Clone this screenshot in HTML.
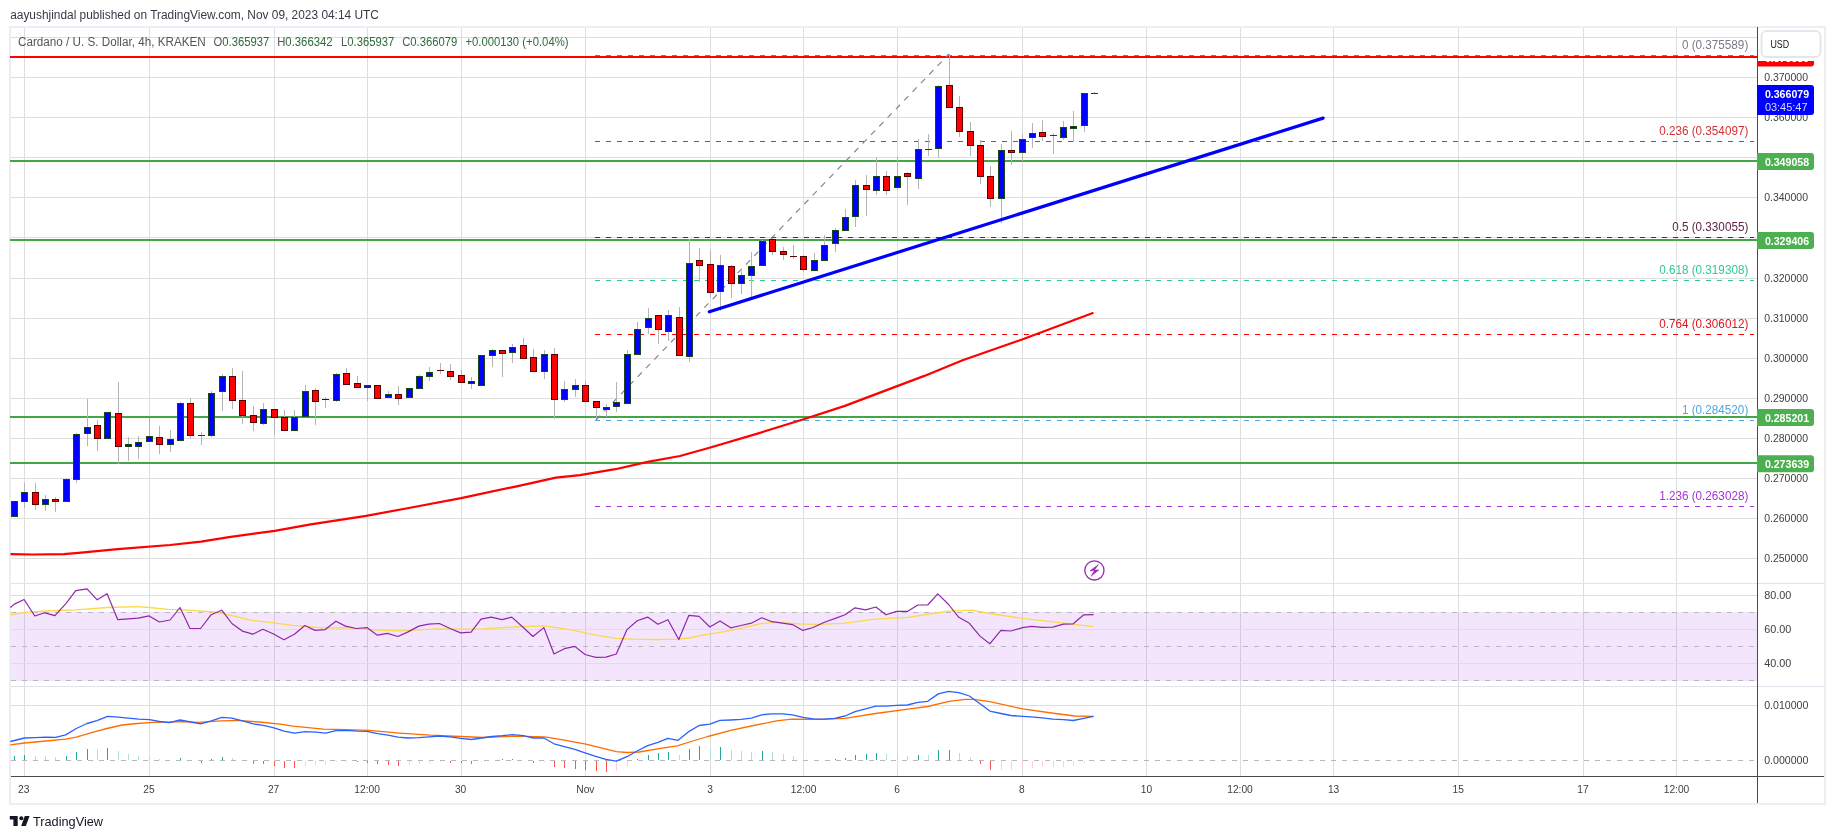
<!DOCTYPE html>
<html><head><meta charset="utf-8"><title>ADA/USD Chart</title>
<style>
html,body{margin:0;padding:0;background:#ffffff;}
body{width:1835px;height:839px;position:relative;overflow:hidden;font-family:"Liberation Sans", sans-serif;}
</style></head><body>
<svg width="1835" height="839" viewBox="0 0 1835 839" shape-rendering="crispEdges" style="position:absolute;left:0;top:0;will-change:transform"><rect x="0" y="0" width="1835" height="839" fill="#ffffff"/><rect x="9" y="26" width="1817" height="2" fill="#eceef3"/><rect x="9" y="803" width="1817" height="2" fill="#eceef3"/><rect x="9" y="26" width="2" height="779" fill="#eceef3"/><rect x="1824" y="26" width="2" height="779" fill="#eceef3"/><rect x="24" y="28" width="1" height="748" fill="#dedede"/><rect x="149" y="28" width="1" height="748" fill="#dedede"/><rect x="274" y="28" width="1" height="748" fill="#dedede"/><rect x="367" y="28" width="1" height="748" fill="#dedede"/><rect x="461" y="28" width="1" height="748" fill="#dedede"/><rect x="585" y="28" width="1" height="748" fill="#dedede"/><rect x="710" y="28" width="1" height="748" fill="#dedede"/><rect x="803" y="28" width="1" height="748" fill="#dedede"/><rect x="897" y="28" width="1" height="748" fill="#dedede"/><rect x="1022" y="28" width="1" height="748" fill="#dedede"/><rect x="1146" y="28" width="1" height="748" fill="#dedede"/><rect x="1240" y="28" width="1" height="748" fill="#dedede"/><rect x="1333" y="28" width="1" height="748" fill="#dedede"/><rect x="1458" y="28" width="1" height="748" fill="#dedede"/><rect x="1583" y="28" width="1" height="748" fill="#dedede"/><rect x="1676" y="28" width="1" height="748" fill="#dedede"/><rect x="11" y="37" width="1746" height="1" fill="#dedede"/><rect x="11" y="77" width="1746" height="1" fill="#dedede"/><rect x="11" y="117" width="1746" height="1" fill="#dedede"/><rect x="11" y="157" width="1746" height="1" fill="#dedede"/><rect x="11" y="197" width="1746" height="1" fill="#dedede"/><rect x="11" y="237" width="1746" height="1" fill="#dedede"/><rect x="11" y="278" width="1746" height="1" fill="#dedede"/><rect x="11" y="318" width="1746" height="1" fill="#dedede"/><rect x="11" y="358" width="1746" height="1" fill="#dedede"/><rect x="11" y="398" width="1746" height="1" fill="#dedede"/><rect x="11" y="438" width="1746" height="1" fill="#dedede"/><rect x="11" y="478" width="1746" height="1" fill="#dedede"/><rect x="11" y="518" width="1746" height="1" fill="#dedede"/><rect x="11" y="558" width="1746" height="1" fill="#dedede"/><rect x="11" y="583" width="1813" height="1" fill="#e0e3eb"/><rect x="11" y="686" width="1813" height="1" fill="#e0e3eb"/><rect x="11" y="612" width="1746" height="69" fill="#9b27e1" fill-opacity="0.12"/><rect x="11" y="595" width="1746" height="1" fill="#dedede"/><rect x="11" y="629" width="1746" height="1" fill="#dedede"/><rect x="11" y="663" width="1746" height="1" fill="#dedede"/><line x1="11" y1="612.5" x2="1754" y2="612.5" stroke="#b8b8b8" stroke-width="1" stroke-dasharray="5 6"/><line x1="11" y1="646.5" x2="1754" y2="646.5" stroke="#b8b8b8" stroke-width="1" stroke-dasharray="5 6"/><line x1="11" y1="680.5" x2="1754" y2="680.5" stroke="#b8b8b8" stroke-width="1" stroke-dasharray="5 6"/><rect x="11" y="705" width="1746" height="1" fill="#dedede"/><line x1="11" y1="760.5" x2="1754" y2="760.5" stroke="#b8b8b8" stroke-width="1" stroke-dasharray="5 6"/><rect x="1757" y="27" width="1" height="776" fill="#4a4a4a"/><rect x="11" y="776" width="1813" height="1" fill="#4a4a4a"/><line x1="595" y1="55.5" x2="1754" y2="55.5" stroke="#787b86" stroke-width="1" stroke-dasharray="5 6"/><line x1="595" y1="141.5" x2="1754" y2="141.5" stroke="#d03232" stroke-width="1" stroke-dasharray="5 6"/><line x1="595" y1="237.5" x2="1754" y2="237.5" stroke="#5e2346" stroke-width="1" stroke-dasharray="5 6"/><line x1="595" y1="280.5" x2="1754" y2="280.5" stroke="#2ec99a" stroke-width="1" stroke-dasharray="5 6"/><line x1="595" y1="334.5" x2="1754" y2="334.5" stroke="#ff0000" stroke-width="1" stroke-dasharray="5 6"/><line x1="595" y1="420.5" x2="1754" y2="420.5" stroke="#4fa6e0" stroke-width="1" stroke-dasharray="5 6"/><line x1="595" y1="506.5" x2="1754" y2="506.5" stroke="#a134d6" stroke-width="1" stroke-dasharray="5 6"/><rect x="10" y="56" width="1747" height="2" fill="#ff0000"/><rect x="10" y="160" width="1747" height="2" fill="#43a546"/><rect x="10" y="239" width="1747" height="2" fill="#43a546"/><rect x="10" y="416" width="1747" height="2" fill="#43a546"/><rect x="10" y="462" width="1747" height="2" fill="#43a546"/><line x1="596" y1="420" x2="949" y2="54" stroke="#80838c" stroke-width="1.15" stroke-dasharray="6 6" shape-rendering="auto"/><g><rect x="14" y="501" width="1" height="16" fill="#b4b4b4"/><rect x="11" y="501" width="7" height="16" fill="#1a461a"/><rect x="12" y="502" width="5" height="14" fill="#0000ff"/><rect x="24" y="483" width="1" height="25" fill="#b4b4b4"/><rect x="21" y="492" width="7" height="10" fill="#1a461a"/><rect x="22" y="493" width="5" height="8" fill="#0000ff"/><rect x="35" y="483" width="1" height="27" fill="#b4b4b4"/><rect x="32" y="492" width="7" height="13" fill="#560000"/><rect x="33" y="493" width="5" height="11" fill="#ff0000"/><rect x="45" y="495" width="1" height="16" fill="#b4b4b4"/><rect x="42" y="499" width="7" height="6" fill="#1a461a"/><rect x="43" y="500" width="5" height="4" fill="#0000ff"/><rect x="55" y="497" width="1" height="15" fill="#b4b4b4"/><rect x="52" y="499" width="7" height="3" fill="#560000"/><rect x="53" y="500" width="5" height="1" fill="#ff0000"/><rect x="66" y="478" width="1" height="24" fill="#b4b4b4"/><rect x="63" y="479" width="7" height="23" fill="#1a461a"/><rect x="64" y="480" width="5" height="21" fill="#0000ff"/><rect x="76" y="433" width="1" height="50" fill="#b4b4b4"/><rect x="73" y="434" width="7" height="46" fill="#1a461a"/><rect x="74" y="435" width="5" height="44" fill="#0000ff"/><rect x="87" y="399" width="1" height="47" fill="#b4b4b4"/><rect x="84" y="427" width="7" height="7" fill="#1a461a"/><rect x="85" y="428" width="5" height="5" fill="#0000ff"/><rect x="97" y="420" width="1" height="31" fill="#b4b4b4"/><rect x="94" y="425" width="7" height="14" fill="#560000"/><rect x="95" y="426" width="5" height="12" fill="#ff0000"/><rect x="107" y="412" width="1" height="27" fill="#b4b4b4"/><rect x="104" y="412" width="7" height="27" fill="#1a461a"/><rect x="105" y="413" width="5" height="25" fill="#0000ff"/><rect x="118" y="382" width="1" height="82" fill="#b4b4b4"/><rect x="115" y="413" width="7" height="34" fill="#560000"/><rect x="116" y="414" width="5" height="32" fill="#ff0000"/><rect x="128" y="437" width="1" height="24" fill="#b4b4b4"/><rect x="125" y="444" width="7" height="3" fill="#1a461a"/><rect x="126" y="445" width="5" height="1" fill="#0000ff"/><rect x="138" y="436" width="1" height="23" fill="#b4b4b4"/><rect x="135" y="442" width="7" height="5" fill="#1a461a"/><rect x="136" y="443" width="5" height="3" fill="#0000ff"/><rect x="149" y="418" width="1" height="24" fill="#b4b4b4"/><rect x="146" y="436" width="7" height="6" fill="#1a461a"/><rect x="147" y="437" width="5" height="4" fill="#0000ff"/><rect x="159" y="426" width="1" height="28" fill="#b4b4b4"/><rect x="156" y="437" width="7" height="8" fill="#560000"/><rect x="157" y="438" width="5" height="6" fill="#ff0000"/><rect x="170" y="430" width="1" height="22" fill="#b4b4b4"/><rect x="167" y="439" width="7" height="6" fill="#1a461a"/><rect x="168" y="440" width="5" height="4" fill="#0000ff"/><rect x="180" y="402" width="1" height="39" fill="#b4b4b4"/><rect x="177" y="403" width="7" height="38" fill="#1a461a"/><rect x="178" y="404" width="5" height="36" fill="#0000ff"/><rect x="190" y="398" width="1" height="41" fill="#b4b4b4"/><rect x="187" y="403" width="7" height="33" fill="#560000"/><rect x="188" y="404" width="5" height="31" fill="#ff0000"/><rect x="201" y="432" width="1" height="13" fill="#b4b4b4"/><rect x="198" y="435" width="7" height="1" fill="#1a461a"/><rect x="211" y="391" width="1" height="46" fill="#b4b4b4"/><rect x="208" y="393" width="7" height="43" fill="#1a461a"/><rect x="209" y="394" width="5" height="41" fill="#0000ff"/><rect x="222" y="374" width="1" height="37" fill="#b4b4b4"/><rect x="219" y="376" width="7" height="16" fill="#1a461a"/><rect x="220" y="377" width="5" height="14" fill="#0000ff"/><rect x="232" y="368" width="1" height="41" fill="#b4b4b4"/><rect x="229" y="376" width="7" height="25" fill="#560000"/><rect x="230" y="377" width="5" height="23" fill="#ff0000"/><rect x="242" y="371" width="1" height="53" fill="#b4b4b4"/><rect x="239" y="400" width="7" height="16" fill="#560000"/><rect x="240" y="401" width="5" height="14" fill="#ff0000"/><rect x="253" y="406" width="1" height="25" fill="#b4b4b4"/><rect x="250" y="415" width="7" height="8" fill="#560000"/><rect x="251" y="416" width="5" height="6" fill="#ff0000"/><rect x="263" y="403" width="1" height="22" fill="#b4b4b4"/><rect x="260" y="409" width="7" height="15" fill="#1a461a"/><rect x="261" y="410" width="5" height="13" fill="#0000ff"/><rect x="274" y="409" width="1" height="26" fill="#b4b4b4"/><rect x="271" y="409" width="7" height="9" fill="#560000"/><rect x="272" y="410" width="5" height="7" fill="#ff0000"/><rect x="284" y="410" width="1" height="21" fill="#b4b4b4"/><rect x="281" y="417" width="7" height="14" fill="#560000"/><rect x="282" y="418" width="5" height="12" fill="#ff0000"/><rect x="294" y="410" width="1" height="21" fill="#b4b4b4"/><rect x="291" y="417" width="7" height="14" fill="#1a461a"/><rect x="292" y="418" width="5" height="12" fill="#0000ff"/><rect x="305" y="385" width="1" height="32" fill="#b4b4b4"/><rect x="302" y="391" width="7" height="26" fill="#1a461a"/><rect x="303" y="392" width="5" height="24" fill="#0000ff"/><rect x="315" y="388" width="1" height="37" fill="#b4b4b4"/><rect x="312" y="390" width="7" height="12" fill="#560000"/><rect x="313" y="391" width="5" height="10" fill="#ff0000"/><rect x="325" y="397" width="1" height="11" fill="#b4b4b4"/><rect x="322" y="399" width="7" height="1" fill="#560000"/><rect x="336" y="373" width="1" height="29" fill="#b4b4b4"/><rect x="333" y="374" width="7" height="27" fill="#1a461a"/><rect x="334" y="375" width="5" height="25" fill="#0000ff"/><rect x="346" y="368" width="1" height="17" fill="#b4b4b4"/><rect x="343" y="373" width="7" height="12" fill="#560000"/><rect x="344" y="374" width="5" height="10" fill="#ff0000"/><rect x="357" y="376" width="1" height="12" fill="#b4b4b4"/><rect x="354" y="383" width="7" height="5" fill="#560000"/><rect x="355" y="384" width="5" height="3" fill="#ff0000"/><rect x="367" y="385" width="1" height="16" fill="#b4b4b4"/><rect x="364" y="385" width="7" height="3" fill="#1a461a"/><rect x="365" y="386" width="5" height="1" fill="#0000ff"/><rect x="377" y="385" width="1" height="14" fill="#b4b4b4"/><rect x="374" y="385" width="7" height="14" fill="#560000"/><rect x="375" y="386" width="5" height="12" fill="#ff0000"/><rect x="388" y="391" width="1" height="7" fill="#b4b4b4"/><rect x="385" y="394" width="7" height="4" fill="#1a461a"/><rect x="386" y="395" width="5" height="2" fill="#0000ff"/><rect x="398" y="386" width="1" height="19" fill="#b4b4b4"/><rect x="395" y="394" width="7" height="5" fill="#560000"/><rect x="396" y="395" width="5" height="3" fill="#ff0000"/><rect x="409" y="388" width="1" height="10" fill="#b4b4b4"/><rect x="406" y="388" width="7" height="10" fill="#1a461a"/><rect x="407" y="389" width="5" height="8" fill="#0000ff"/><rect x="419" y="375" width="1" height="14" fill="#b4b4b4"/><rect x="416" y="376" width="7" height="13" fill="#1a461a"/><rect x="417" y="377" width="5" height="11" fill="#0000ff"/><rect x="429" y="367" width="1" height="14" fill="#b4b4b4"/><rect x="426" y="372" width="7" height="5" fill="#1a461a"/><rect x="427" y="373" width="5" height="3" fill="#0000ff"/><rect x="440" y="363" width="1" height="11" fill="#b4b4b4"/><rect x="437" y="370" width="7" height="1" fill="#560000"/><rect x="450" y="364" width="1" height="16" fill="#b4b4b4"/><rect x="447" y="371" width="7" height="6" fill="#560000"/><rect x="448" y="372" width="5" height="4" fill="#ff0000"/><rect x="461" y="370" width="1" height="13" fill="#b4b4b4"/><rect x="458" y="375" width="7" height="8" fill="#560000"/><rect x="459" y="376" width="5" height="6" fill="#ff0000"/><rect x="471" y="377" width="1" height="12" fill="#b4b4b4"/><rect x="468" y="381" width="7" height="3" fill="#1a461a"/><rect x="469" y="382" width="5" height="1" fill="#0000ff"/><rect x="481" y="355" width="1" height="31" fill="#b4b4b4"/><rect x="478" y="355" width="7" height="31" fill="#1a461a"/><rect x="479" y="356" width="5" height="29" fill="#0000ff"/><rect x="492" y="349" width="1" height="18" fill="#b4b4b4"/><rect x="489" y="350" width="7" height="6" fill="#1a461a"/><rect x="490" y="351" width="5" height="4" fill="#0000ff"/><rect x="502" y="350" width="1" height="27" fill="#b4b4b4"/><rect x="499" y="350" width="7" height="4" fill="#560000"/><rect x="500" y="351" width="5" height="2" fill="#ff0000"/><rect x="512" y="344" width="1" height="19" fill="#b4b4b4"/><rect x="509" y="347" width="7" height="6" fill="#1a461a"/><rect x="510" y="348" width="5" height="4" fill="#0000ff"/><rect x="523" y="338" width="1" height="21" fill="#b4b4b4"/><rect x="520" y="345" width="7" height="14" fill="#560000"/><rect x="521" y="346" width="5" height="12" fill="#ff0000"/><rect x="533" y="349" width="1" height="23" fill="#b4b4b4"/><rect x="530" y="357" width="7" height="15" fill="#560000"/><rect x="531" y="358" width="5" height="13" fill="#ff0000"/><rect x="544" y="350" width="1" height="29" fill="#b4b4b4"/><rect x="541" y="354" width="7" height="18" fill="#1a461a"/><rect x="542" y="355" width="5" height="16" fill="#0000ff"/><rect x="554" y="348" width="1" height="71" fill="#b4b4b4"/><rect x="551" y="354" width="7" height="46" fill="#560000"/><rect x="552" y="355" width="5" height="44" fill="#ff0000"/><rect x="564" y="381" width="1" height="21" fill="#b4b4b4"/><rect x="561" y="389" width="7" height="11" fill="#1a461a"/><rect x="562" y="390" width="5" height="9" fill="#0000ff"/><rect x="575" y="379" width="1" height="18" fill="#b4b4b4"/><rect x="572" y="385" width="7" height="5" fill="#1a461a"/><rect x="573" y="386" width="5" height="3" fill="#0000ff"/><rect x="585" y="381" width="1" height="21" fill="#b4b4b4"/><rect x="582" y="385" width="7" height="17" fill="#560000"/><rect x="583" y="386" width="5" height="15" fill="#ff0000"/><rect x="596" y="401" width="1" height="18" fill="#b4b4b4"/><rect x="593" y="401" width="7" height="7" fill="#560000"/><rect x="594" y="402" width="5" height="5" fill="#ff0000"/><rect x="606" y="404" width="1" height="13" fill="#b4b4b4"/><rect x="603" y="407" width="7" height="3" fill="#1a461a"/><rect x="604" y="408" width="5" height="1" fill="#0000ff"/><rect x="616" y="382" width="1" height="30" fill="#b4b4b4"/><rect x="613" y="402" width="7" height="5" fill="#1a461a"/><rect x="614" y="403" width="5" height="3" fill="#0000ff"/><rect x="627" y="350" width="1" height="54" fill="#b4b4b4"/><rect x="624" y="354" width="7" height="50" fill="#1a461a"/><rect x="625" y="355" width="5" height="48" fill="#0000ff"/><rect x="637" y="322" width="1" height="33" fill="#b4b4b4"/><rect x="634" y="329" width="7" height="26" fill="#1a461a"/><rect x="635" y="330" width="5" height="24" fill="#0000ff"/><rect x="648" y="308" width="1" height="26" fill="#b4b4b4"/><rect x="645" y="318" width="7" height="10" fill="#1a461a"/><rect x="646" y="319" width="5" height="8" fill="#0000ff"/><rect x="658" y="315" width="1" height="29" fill="#b4b4b4"/><rect x="655" y="315" width="7" height="15" fill="#560000"/><rect x="656" y="316" width="5" height="13" fill="#ff0000"/><rect x="668" y="310" width="1" height="31" fill="#b4b4b4"/><rect x="665" y="315" width="7" height="17" fill="#1a461a"/><rect x="666" y="316" width="5" height="15" fill="#0000ff"/><rect x="679" y="307" width="1" height="49" fill="#b4b4b4"/><rect x="676" y="317" width="7" height="39" fill="#560000"/><rect x="677" y="318" width="5" height="37" fill="#ff0000"/><rect x="689" y="239" width="1" height="123" fill="#b4b4b4"/><rect x="686" y="263" width="7" height="94" fill="#1a461a"/><rect x="687" y="264" width="5" height="92" fill="#0000ff"/><rect x="699" y="248" width="1" height="34" fill="#b4b4b4"/><rect x="696" y="260" width="7" height="6" fill="#560000"/><rect x="697" y="261" width="5" height="4" fill="#ff0000"/><rect x="710" y="250" width="1" height="48" fill="#b4b4b4"/><rect x="707" y="264" width="7" height="29" fill="#560000"/><rect x="708" y="265" width="5" height="27" fill="#ff0000"/><rect x="720" y="255" width="1" height="56" fill="#b4b4b4"/><rect x="717" y="265" width="7" height="27" fill="#1a461a"/><rect x="718" y="266" width="5" height="25" fill="#0000ff"/><rect x="731" y="265" width="1" height="33" fill="#b4b4b4"/><rect x="728" y="266" width="7" height="18" fill="#560000"/><rect x="729" y="267" width="5" height="16" fill="#ff0000"/><rect x="741" y="271" width="1" height="23" fill="#b4b4b4"/><rect x="738" y="275" width="7" height="9" fill="#1a461a"/><rect x="739" y="276" width="5" height="7" fill="#0000ff"/><rect x="751" y="252" width="1" height="48" fill="#b4b4b4"/><rect x="748" y="266" width="7" height="10" fill="#1a461a"/><rect x="749" y="267" width="5" height="8" fill="#0000ff"/><rect x="762" y="240" width="1" height="26" fill="#b4b4b4"/><rect x="759" y="241" width="7" height="25" fill="#1a461a"/><rect x="760" y="242" width="5" height="23" fill="#0000ff"/><rect x="772" y="238" width="1" height="17" fill="#b4b4b4"/><rect x="769" y="239" width="7" height="13" fill="#560000"/><rect x="770" y="240" width="5" height="11" fill="#ff0000"/><rect x="783" y="247" width="1" height="13" fill="#b4b4b4"/><rect x="780" y="251" width="7" height="4" fill="#560000"/><rect x="781" y="252" width="5" height="2" fill="#ff0000"/><rect x="793" y="245" width="1" height="14" fill="#b4b4b4"/><rect x="790" y="256" width="7" height="1" fill="#560000"/><rect x="803" y="255" width="1" height="17" fill="#b4b4b4"/><rect x="800" y="256" width="7" height="14" fill="#560000"/><rect x="801" y="257" width="5" height="12" fill="#ff0000"/><rect x="814" y="253" width="1" height="18" fill="#b4b4b4"/><rect x="811" y="260" width="7" height="11" fill="#1a461a"/><rect x="812" y="261" width="5" height="9" fill="#0000ff"/><rect x="824" y="235" width="1" height="26" fill="#b4b4b4"/><rect x="821" y="245" width="7" height="16" fill="#1a461a"/><rect x="822" y="246" width="5" height="14" fill="#0000ff"/><rect x="835" y="228" width="1" height="24" fill="#b4b4b4"/><rect x="832" y="230" width="7" height="14" fill="#1a461a"/><rect x="833" y="231" width="5" height="12" fill="#0000ff"/><rect x="845" y="209" width="1" height="22" fill="#b4b4b4"/><rect x="842" y="217" width="7" height="14" fill="#1a461a"/><rect x="843" y="218" width="5" height="12" fill="#0000ff"/><rect x="855" y="180" width="1" height="47" fill="#b4b4b4"/><rect x="852" y="185" width="7" height="32" fill="#1a461a"/><rect x="853" y="186" width="5" height="30" fill="#0000ff"/><rect x="866" y="175" width="1" height="41" fill="#b4b4b4"/><rect x="863" y="185" width="7" height="5" fill="#560000"/><rect x="864" y="186" width="5" height="3" fill="#ff0000"/><rect x="876" y="157" width="1" height="38" fill="#b4b4b4"/><rect x="873" y="176" width="7" height="15" fill="#1a461a"/><rect x="874" y="177" width="5" height="13" fill="#0000ff"/><rect x="886" y="171" width="1" height="24" fill="#b4b4b4"/><rect x="883" y="176" width="7" height="15" fill="#560000"/><rect x="884" y="177" width="5" height="13" fill="#ff0000"/><rect x="897" y="157" width="1" height="33" fill="#b4b4b4"/><rect x="894" y="176" width="7" height="12" fill="#1a461a"/><rect x="895" y="177" width="5" height="10" fill="#0000ff"/><rect x="907" y="172" width="1" height="33" fill="#b4b4b4"/><rect x="904" y="173" width="7" height="4" fill="#560000"/><rect x="905" y="174" width="5" height="2" fill="#ff0000"/><rect x="918" y="139" width="1" height="50" fill="#b4b4b4"/><rect x="915" y="149" width="7" height="30" fill="#1a461a"/><rect x="916" y="150" width="5" height="28" fill="#0000ff"/><rect x="928" y="134" width="1" height="22" fill="#b4b4b4"/><rect x="925" y="149" width="7" height="1" fill="#1a461a"/><rect x="938" y="85" width="1" height="73" fill="#b4b4b4"/><rect x="935" y="86" width="7" height="63" fill="#1a461a"/><rect x="936" y="87" width="5" height="61" fill="#0000ff"/><rect x="949" y="54" width="1" height="54" fill="#b4b4b4"/><rect x="946" y="85" width="7" height="23" fill="#560000"/><rect x="947" y="86" width="5" height="21" fill="#ff0000"/><rect x="959" y="96" width="1" height="41" fill="#b4b4b4"/><rect x="956" y="107" width="7" height="25" fill="#560000"/><rect x="957" y="108" width="5" height="23" fill="#ff0000"/><rect x="970" y="122" width="1" height="34" fill="#b4b4b4"/><rect x="967" y="131" width="7" height="15" fill="#560000"/><rect x="968" y="132" width="5" height="13" fill="#ff0000"/><rect x="980" y="140" width="1" height="44" fill="#b4b4b4"/><rect x="977" y="145" width="7" height="32" fill="#560000"/><rect x="978" y="146" width="5" height="30" fill="#ff0000"/><rect x="990" y="166" width="1" height="41" fill="#b4b4b4"/><rect x="987" y="176" width="7" height="23" fill="#560000"/><rect x="988" y="177" width="5" height="21" fill="#ff0000"/><rect x="1001" y="144" width="1" height="79" fill="#b4b4b4"/><rect x="998" y="150" width="7" height="49" fill="#1a461a"/><rect x="999" y="151" width="5" height="47" fill="#0000ff"/><rect x="1011" y="131" width="1" height="34" fill="#b4b4b4"/><rect x="1008" y="150" width="7" height="3" fill="#560000"/><rect x="1009" y="151" width="5" height="1" fill="#ff0000"/><rect x="1022" y="134" width="1" height="27" fill="#b4b4b4"/><rect x="1019" y="139" width="7" height="14" fill="#1a461a"/><rect x="1020" y="140" width="5" height="12" fill="#0000ff"/><rect x="1032" y="123" width="1" height="25" fill="#b4b4b4"/><rect x="1029" y="133" width="7" height="5" fill="#1a461a"/><rect x="1030" y="134" width="5" height="3" fill="#0000ff"/><rect x="1042" y="120" width="1" height="21" fill="#b4b4b4"/><rect x="1039" y="132" width="7" height="5" fill="#560000"/><rect x="1040" y="133" width="5" height="3" fill="#ff0000"/><rect x="1053" y="133" width="1" height="21" fill="#b4b4b4"/><rect x="1050" y="135" width="7" height="1" fill="#1a461a"/><rect x="1063" y="121" width="1" height="19" fill="#b4b4b4"/><rect x="1060" y="127" width="7" height="11" fill="#1a461a"/><rect x="1061" y="128" width="5" height="9" fill="#0000ff"/><rect x="1073" y="111" width="1" height="31" fill="#b4b4b4"/><rect x="1070" y="126" width="7" height="3" fill="#1a461a"/><rect x="1071" y="127" width="5" height="1" fill="#0000ff"/><rect x="1084" y="93" width="1" height="39" fill="#b4b4b4"/><rect x="1081" y="93" width="7" height="33" fill="#1a461a"/><rect x="1082" y="94" width="5" height="31" fill="#0000ff"/><rect x="1094" y="92" width="1" height="2" fill="#b4b4b4"/><rect x="1091" y="93" width="7" height="1" fill="#1a461a"/></g><polyline points="10.5,554.1 32.7,554.5 63.8,554.1 78.5,552.8 117.7,549.2 170.0,545.0 201.1,541.7 228.9,537.1 274.7,530.9 310.7,524.4 366.2,515.9 408.8,508.0 461.1,498.2 516.7,486.3 555.9,477.6 580.0,475.1 615.3,469.2 647.7,461.9 680.0,456.0 709.5,447.7 756.6,433.9 803.7,419.2 844.9,405.9 897.8,385.9 924.3,375.9 962.6,360.3 1021.4,339.7 1093.5,312.7" fill="none" stroke="#ff0000" stroke-width="2.2" stroke-linejoin="round" shape-rendering="auto"/><line x1="709.3" y1="311.8" x2="1323.1" y2="118.1" stroke="#0000ff" stroke-width="3.2" stroke-linecap="round" shape-rendering="auto"/><circle cx="1094.4" cy="570.4" r="9.6" fill="#ffffff" stroke="#9c27b0" stroke-width="1.3" shape-rendering="auto"/><path d="M1098.3,564.8 L1090.0,570.8 L1094.6,570.6 L1091.0,576.2 L1098.8,569.9 L1094.4,570.1 Z" fill="#9c27b0" stroke="#9c27b0" stroke-width="0.6" stroke-linejoin="round" shape-rendering="auto"/><polyline points="10.4,614.8 24.4,612.3 45.8,611.0 76.3,609.8 106.8,607.5 137.3,606.7 149.5,607.5 167.8,609.4 183.1,609.8 213.6,612.0 228.9,614.8 251.8,620.4 270.0,622.4 292.9,625.3 323.4,627.8 346.3,627.6 369.2,629.6 399.7,630.8 422.6,629.6 437.8,628.8 460.7,629.1 483.6,628.8 514.1,627.0 544.6,625.8 570.5,629.6 593.4,634.6 616.3,638.3 631.5,639.2 657.5,639.5 677.3,639.2 689.5,638.0 700.2,635.7 723.1,631.9 738.4,628.8 761.2,623.5 776.5,622.4 799.4,623.8 814.6,624.3 842.7,623.3 875.4,619.2 908.1,617.3 932.6,613.5 949.0,611.1 971.8,610.2 989.8,613.5 1022.5,618.4 1055.2,622.2 1071.6,624.1 1093.6,626.6" fill="none" stroke="#fbd94a" stroke-width="1.3" stroke-linejoin="round" shape-rendering="auto"/><polyline points="10.4,607.5 14.3,604.1 24.1,599.5 34.8,616.0 44.7,612.8 54.9,615.6 65.9,603.6 75.8,590.7 87.0,588.8 97.2,599.8 107.1,593.7 117.8,619.7 128.2,618.9 138.1,618.1 149.2,615.9 159.4,622.0 170.1,620.0 180.0,607.5 190.0,628.5 200.6,628.5 211.0,614.8 221.7,610.2 231.9,623.5 242.3,631.1 252.8,634.2 262.9,629.3 273.1,633.7 284.0,639.8 294.4,634.2 304.8,625.5 315.0,630.4 324.9,629.7 335.9,621.2 345.5,626.1 356.2,628.5 366.9,627.6 377.3,635.2 387.5,633.4 397.9,636.5 408.1,631.9 418.8,626.1 428.7,624.2 439.4,623.5 450.0,628.5 460.7,632.9 471.1,632.2 481.0,619.2 491.2,617.1 501.9,619.7 511.8,617.1 522.5,626.8 532.9,636.5 543.9,627.6 554.0,654.0 564.4,648.7 574.8,646.4 585.0,654.5 595.7,657.4 605.9,657.1 616.3,654.0 627.0,629.6 637.2,620.7 647.6,617.1 657.9,624.2 667.9,619.7 678.8,639.5 688.8,615.4 699.1,616.3 709.8,627.0 720.0,620.9 730.7,627.8 741.1,625.5 751.3,623.2 761.7,617.8 771.9,621.7 782.6,623.2 792.5,624.6 802.9,630.4 813.1,627.5 824.4,622.2 835.3,618.4 845.1,614.7 855.0,607.8 865.6,609.9 875.9,607.0 886.0,614.8 896.6,611.4 907.3,611.4 917.9,605.0 927.7,605.0 937.8,593.9 948.6,604.5 958.8,617.3 969.4,623.3 980.0,636.1 989.8,643.8 1000.9,630.4 1010.8,631.0 1022.5,627.7 1031.5,626.3 1042.1,627.4 1052.8,627.1 1063.4,624.1 1073.2,623.8 1083.8,614.8 1093.6,614.7" fill="none" stroke="#9027ab" stroke-width="1.2" stroke-linejoin="round" shape-rendering="auto"/><rect x="14" y="756" width="1" height="4" fill="#26a69a"/><rect x="24" y="755" width="1" height="5" fill="#26a69a"/><rect x="35" y="756" width="1" height="4" fill="#b2dfdb"/><rect x="45" y="756" width="1" height="4" fill="#b2dfdb"/><rect x="55" y="757" width="1" height="3" fill="#b2dfdb"/><rect x="66" y="756" width="1" height="4" fill="#26a69a"/><rect x="76" y="752" width="1" height="8" fill="#26a69a"/><rect x="87" y="749" width="1" height="11" fill="#26a69a"/><rect x="97" y="749" width="1" height="11" fill="#b2dfdb"/><rect x="107" y="748" width="1" height="12" fill="#26a69a"/><rect x="118" y="751" width="1" height="9" fill="#b2dfdb"/><rect x="128" y="754" width="1" height="6" fill="#b2dfdb"/><rect x="138" y="756" width="1" height="4" fill="#b2dfdb"/><rect x="149" y="757" width="1" height="3" fill="#b2dfdb"/><rect x="159" y="759" width="1" height="1" fill="#b2dfdb"/><rect x="180" y="758" width="1" height="2" fill="#26a69a"/><rect x="201" y="761" width="1" height="2" fill="#ff5252"/><rect x="211" y="759" width="1" height="1" fill="#26a69a"/><rect x="222" y="757" width="1" height="3" fill="#26a69a"/><rect x="232" y="758" width="1" height="2" fill="#b2dfdb"/><rect x="253" y="761" width="1" height="3" fill="#ff5252"/><rect x="263" y="761" width="1" height="3" fill="#ff5252"/><rect x="274" y="761" width="1" height="5" fill="#ff5252"/><rect x="284" y="761" width="1" height="7" fill="#ff5252"/><rect x="294" y="761" width="1" height="7" fill="#ff5252"/><rect x="305" y="761" width="1" height="5" fill="#ffcdd2"/><rect x="315" y="761" width="1" height="4" fill="#ffcdd2"/><rect x="325" y="761" width="1" height="4" fill="#ffcdd2"/><rect x="336" y="761" width="1" height="1" fill="#ffcdd2"/><rect x="346" y="761" width="1" height="1" fill="#ffcdd2"/><rect x="357" y="761" width="1" height="1" fill="#ff5252"/><rect x="367" y="761" width="1" height="2" fill="#ff5252"/><rect x="377" y="761" width="1" height="3" fill="#ff5252"/><rect x="388" y="761" width="1" height="4" fill="#ff5252"/><rect x="398" y="761" width="1" height="5" fill="#ff5252"/><rect x="409" y="761" width="1" height="4" fill="#ffcdd2"/><rect x="419" y="761" width="1" height="3" fill="#ffcdd2"/><rect x="429" y="761" width="1" height="2" fill="#ffcdd2"/><rect x="440" y="761" width="1" height="1" fill="#ffcdd2"/><rect x="450" y="761" width="1" height="2" fill="#ff5252"/><rect x="461" y="761" width="1" height="2" fill="#ff5252"/><rect x="471" y="761" width="1" height="3" fill="#ff5252"/><rect x="481" y="761" width="1" height="1" fill="#ffcdd2"/><rect x="502" y="759" width="1" height="1" fill="#26a69a"/><rect x="512" y="759" width="1" height="1" fill="#26a69a"/><rect x="533" y="761" width="1" height="2" fill="#ff5252"/><rect x="544" y="761" width="1" height="1" fill="#ffcdd2"/><rect x="554" y="761" width="1" height="6" fill="#ff5252"/><rect x="564" y="761" width="1" height="7" fill="#ff5252"/><rect x="575" y="761" width="1" height="8" fill="#ff5252"/><rect x="585" y="761" width="1" height="9" fill="#ff5252"/><rect x="596" y="761" width="1" height="10" fill="#ff5252"/><rect x="606" y="761" width="1" height="11" fill="#ff5252"/><rect x="616" y="761" width="1" height="10" fill="#ffcdd2"/><rect x="627" y="761" width="1" height="5" fill="#ffcdd2"/><rect x="637" y="759" width="1" height="1" fill="#26a69a"/><rect x="648" y="755" width="1" height="5" fill="#26a69a"/><rect x="658" y="753" width="1" height="7" fill="#26a69a"/><rect x="668" y="752" width="1" height="8" fill="#26a69a"/><rect x="679" y="755" width="1" height="5" fill="#b2dfdb"/><rect x="689" y="749" width="1" height="11" fill="#26a69a"/><rect x="699" y="746" width="1" height="14" fill="#26a69a"/><rect x="710" y="748" width="1" height="12" fill="#b2dfdb"/><rect x="720" y="747" width="1" height="13" fill="#26a69a"/><rect x="731" y="750" width="1" height="10" fill="#b2dfdb"/><rect x="741" y="751" width="1" height="9" fill="#b2dfdb"/><rect x="751" y="752" width="1" height="8" fill="#b2dfdb"/><rect x="762" y="751" width="1" height="9" fill="#26a69a"/><rect x="772" y="752" width="1" height="8" fill="#b2dfdb"/><rect x="783" y="754" width="1" height="6" fill="#b2dfdb"/><rect x="793" y="756" width="1" height="4" fill="#b2dfdb"/><rect x="803" y="759" width="1" height="1" fill="#b2dfdb"/><rect x="835" y="759" width="1" height="1" fill="#26a69a"/><rect x="845" y="758" width="1" height="2" fill="#26a69a"/><rect x="855" y="755" width="1" height="5" fill="#26a69a"/><rect x="866" y="754" width="1" height="6" fill="#26a69a"/><rect x="876" y="753" width="1" height="7" fill="#26a69a"/><rect x="886" y="754" width="1" height="6" fill="#b2dfdb"/><rect x="897" y="755" width="1" height="5" fill="#b2dfdb"/><rect x="907" y="756" width="1" height="4" fill="#b2dfdb"/><rect x="918" y="755" width="1" height="5" fill="#26a69a"/><rect x="928" y="755" width="1" height="5" fill="#b2dfdb"/><rect x="938" y="750" width="1" height="10" fill="#26a69a"/><rect x="949" y="750" width="1" height="10" fill="#26a69a"/><rect x="959" y="753" width="1" height="7" fill="#b2dfdb"/><rect x="970" y="757" width="1" height="3" fill="#b2dfdb"/><rect x="980" y="761" width="1" height="3" fill="#ff5252"/><rect x="990" y="761" width="1" height="9" fill="#ff5252"/><rect x="1001" y="761" width="1" height="9" fill="#ffcdd2"/><rect x="1011" y="761" width="1" height="9" fill="#ffcdd2"/><rect x="1022" y="761" width="1" height="7" fill="#ffcdd2"/><rect x="1032" y="761" width="1" height="7" fill="#ffcdd2"/><rect x="1042" y="761" width="1" height="6" fill="#ffcdd2"/><rect x="1053" y="761" width="1" height="6" fill="#ffcdd2"/><rect x="1063" y="761" width="1" height="6" fill="#ffcdd2"/><rect x="1073" y="761" width="1" height="5" fill="#ffcdd2"/><rect x="1084" y="761" width="1" height="2" fill="#ffcdd2"/><rect x="1094" y="761" width="1" height="1" fill="#ffcdd2"/><polyline points="10.4,744.8 24.4,743.0 45.8,741.0 65.6,739.2 76.3,737.2 91.5,732.6 106.8,728.5 122.1,725.0 137.3,723.5 152.6,722.4 183.1,721.7 198.4,722.4 221.2,720.9 236.5,720.4 259.4,722.0 280.0,724.2 292.9,726.1 323.4,729.1 346.3,729.6 369.2,730.4 399.7,733.1 430.2,735.2 460.7,736.5 483.6,737.5 514.1,736.1 544.6,736.8 562.9,739.8 585.8,744.1 616.3,751.7 627.0,752.5 639.2,752.0 662.1,748.2 677.3,745.9 692.6,741.0 707.8,736.5 730.7,730.4 753.6,725.5 776.5,720.9 791.8,719.2 820.0,719.3 845.1,718.4 875.4,713.5 908.1,709.1 927.7,706.5 949.0,701.3 965.3,699.3 973.5,699.3 989.8,701.7 1022.5,708.9 1055.2,713.5 1074.8,716.0 1093.6,716.3" fill="none" stroke="#ff6d00" stroke-width="1.3" stroke-linejoin="round" shape-rendering="auto"/><polyline points="10.4,741.5 24.4,738.0 35.1,737.7 45.8,737.2 55.7,737.4 65.6,734.9 76.3,728.5 87.0,723.5 96.9,720.7 107.6,716.3 118.2,717.1 128.2,718.1 138.8,719.1 149.5,719.7 159.4,721.5 169.4,722.7 180.0,720.0 190.7,722.0 200.6,723.9 211.3,720.9 222.0,717.4 231.9,718.1 242.6,720.9 253.3,723.9 263.2,725.3 273.1,727.6 284.0,731.1 294.4,733.1 305.1,731.6 315.8,732.2 325.7,733.1 335.9,730.7 346.3,730.4 357.0,731.1 367.2,731.4 377.6,733.7 387.9,735.2 397.9,737.2 408.1,738.0 418.8,737.7 429.4,736.8 439.4,736.0 450.0,736.8 460.7,738.4 471.4,739.5 481.3,738.0 492.0,736.5 502.4,735.7 512.6,734.6 523.3,735.7 533.2,738.0 543.9,738.0 554.0,743.8 564.4,746.7 574.8,749.4 585.0,752.9 595.7,756.3 605.9,759.3 616.3,761.2 627.0,756.7 637.2,751.0 647.6,745.6 657.9,742.3 667.9,738.4 678.1,740.3 688.8,731.6 699.1,725.5 709.8,724.2 720.0,720.4 730.7,720.0 741.1,719.4 751.3,718.1 761.7,714.8 771.9,713.9 782.6,713.9 792.5,714.8 802.9,717.4 813.1,718.9 824.4,719.2 834.5,718.4 845.1,716.0 855.0,711.6 865.6,708.9 875.9,706.2 886.0,706.2 896.6,705.3 907.3,705.0 917.9,702.4 927.7,701.3 938.3,693.9 948.6,691.4 958.8,692.6 969.4,696.0 980.0,703.7 989.8,711.1 1000.9,713.5 1010.8,715.5 1022.5,716.3 1031.5,716.8 1042.1,717.9 1052.8,719.2 1063.4,719.7 1073.2,720.5 1083.8,718.4 1093.6,716.3" fill="none" stroke="#2962ff" stroke-width="1.3" stroke-linejoin="round" shape-rendering="auto"/><text x="1681.95" y="48.9" font-family='"Liberation Sans", sans-serif' font-size="12" fill="#787b86" text-anchor="start" font-weight="normal"  textLength="66.35" lengthAdjust="spacingAndGlyphs">0 (0.375589)</text><text x="1659.18" y="135.1" font-family='"Liberation Sans", sans-serif' font-size="12" fill="#d03232" text-anchor="start" font-weight="normal"  textLength="89.12" lengthAdjust="spacingAndGlyphs">0.236 (0.354097)</text><text x="1672.19" y="231.1" font-family='"Liberation Sans", sans-serif' font-size="12" fill="#5e2346" text-anchor="start" font-weight="normal"  textLength="76.11" lengthAdjust="spacingAndGlyphs">0.5 (0.330055)</text><text x="1659.18" y="273.7" font-family='"Liberation Sans", sans-serif' font-size="12" fill="#2ec99a" text-anchor="start" font-weight="normal"  textLength="89.12" lengthAdjust="spacingAndGlyphs">0.618 (0.319308)</text><text x="1659.18" y="327.7" font-family='"Liberation Sans", sans-serif' font-size="12" fill="#e3121e" text-anchor="start" font-weight="normal"  textLength="89.12" lengthAdjust="spacingAndGlyphs">0.764 (0.306012)</text><text x="1681.95" y="413.7" font-family='"Liberation Sans", sans-serif' font-size="12" fill="#4fa6e0" text-anchor="start" font-weight="normal"  textLength="66.35" lengthAdjust="spacingAndGlyphs">1 (0.284520)</text><text x="1659.18" y="500.2" font-family='"Liberation Sans", sans-serif' font-size="12" fill="#a134d6" text-anchor="start" font-weight="normal"  textLength="89.12" lengthAdjust="spacingAndGlyphs">1.236 (0.263028)</text><text x="1764.2" y="80.8" font-family='"Liberation Sans", sans-serif' font-size="11" fill="#404040" text-anchor="start" font-weight="normal"  textLength="43.8" lengthAdjust="spacingAndGlyphs">0.370000</text><text x="1764.2" y="120.8" font-family='"Liberation Sans", sans-serif' font-size="11" fill="#404040" text-anchor="start" font-weight="normal"  textLength="43.8" lengthAdjust="spacingAndGlyphs">0.360000</text><text x="1764.2" y="160.8" font-family='"Liberation Sans", sans-serif' font-size="11" fill="#404040" text-anchor="start" font-weight="normal"  textLength="43.8" lengthAdjust="spacingAndGlyphs">0.350000</text><text x="1764.2" y="200.8" font-family='"Liberation Sans", sans-serif' font-size="11" fill="#404040" text-anchor="start" font-weight="normal"  textLength="43.8" lengthAdjust="spacingAndGlyphs">0.340000</text><text x="1764.2" y="240.8" font-family='"Liberation Sans", sans-serif' font-size="11" fill="#404040" text-anchor="start" font-weight="normal"  textLength="43.8" lengthAdjust="spacingAndGlyphs">0.330000</text><text x="1764.2" y="281.8" font-family='"Liberation Sans", sans-serif' font-size="11" fill="#404040" text-anchor="start" font-weight="normal"  textLength="43.8" lengthAdjust="spacingAndGlyphs">0.320000</text><text x="1764.2" y="321.8" font-family='"Liberation Sans", sans-serif' font-size="11" fill="#404040" text-anchor="start" font-weight="normal"  textLength="43.8" lengthAdjust="spacingAndGlyphs">0.310000</text><text x="1764.2" y="361.8" font-family='"Liberation Sans", sans-serif' font-size="11" fill="#404040" text-anchor="start" font-weight="normal"  textLength="43.8" lengthAdjust="spacingAndGlyphs">0.300000</text><text x="1764.2" y="401.8" font-family='"Liberation Sans", sans-serif' font-size="11" fill="#404040" text-anchor="start" font-weight="normal"  textLength="43.8" lengthAdjust="spacingAndGlyphs">0.290000</text><text x="1764.2" y="441.8" font-family='"Liberation Sans", sans-serif' font-size="11" fill="#404040" text-anchor="start" font-weight="normal"  textLength="43.8" lengthAdjust="spacingAndGlyphs">0.280000</text><text x="1764.2" y="481.8" font-family='"Liberation Sans", sans-serif' font-size="11" fill="#404040" text-anchor="start" font-weight="normal"  textLength="43.8" lengthAdjust="spacingAndGlyphs">0.270000</text><text x="1764.2" y="521.8" font-family='"Liberation Sans", sans-serif' font-size="11" fill="#404040" text-anchor="start" font-weight="normal"  textLength="43.8" lengthAdjust="spacingAndGlyphs">0.260000</text><text x="1764.2" y="561.8" font-family='"Liberation Sans", sans-serif' font-size="11" fill="#404040" text-anchor="start" font-weight="normal"  textLength="43.8" lengthAdjust="spacingAndGlyphs">0.250000</text><text x="1764.2" y="598.8" font-family='"Liberation Sans", sans-serif' font-size="11" fill="#404040" text-anchor="start" font-weight="normal"  textLength="27.1" lengthAdjust="spacingAndGlyphs">80.00</text><text x="1764.2" y="632.8" font-family='"Liberation Sans", sans-serif' font-size="11" fill="#404040" text-anchor="start" font-weight="normal"  textLength="27.1" lengthAdjust="spacingAndGlyphs">60.00</text><text x="1764.2" y="666.8" font-family='"Liberation Sans", sans-serif' font-size="11" fill="#404040" text-anchor="start" font-weight="normal"  textLength="27.1" lengthAdjust="spacingAndGlyphs">40.00</text><text x="1764.2" y="708.8" font-family='"Liberation Sans", sans-serif' font-size="11" fill="#404040" text-anchor="start" font-weight="normal"  textLength="44.2" lengthAdjust="spacingAndGlyphs">0.010000</text><text x="1764.2" y="763.8" font-family='"Liberation Sans", sans-serif' font-size="11" fill="#404040" text-anchor="start" font-weight="normal"  textLength="44.2" lengthAdjust="spacingAndGlyphs">0.000000</text><path d="M1757,49.5 H1811 Q1814,49.5 1814,52.5 V63.5 Q1814,66.5 1811,66.5 H1757 Z" fill="#ff0000" shape-rendering="auto"/><text x="1764.9" y="62.4" font-family='"Liberation Sans", sans-serif' font-size="11" fill="#ffffff" text-anchor="start" font-weight="bold"  textLength="44.2" lengthAdjust="spacingAndGlyphs">0.375589</text><path d="M1757,153.0 H1811 Q1814,153.0 1814,156.0 V167.0 Q1814,170.0 1811,170.0 H1757 Z" fill="#4caf50" shape-rendering="auto"/><text x="1764.9" y="165.9" font-family='"Liberation Sans", sans-serif' font-size="11" fill="#ffffff" text-anchor="start" font-weight="bold"  textLength="44.2" lengthAdjust="spacingAndGlyphs">0.349058</text><path d="M1757,232.0 H1811 Q1814,232.0 1814,235.0 V246.0 Q1814,249.0 1811,249.0 H1757 Z" fill="#4caf50" shape-rendering="auto"/><text x="1764.9" y="244.9" font-family='"Liberation Sans", sans-serif' font-size="11" fill="#ffffff" text-anchor="start" font-weight="bold"  textLength="44.2" lengthAdjust="spacingAndGlyphs">0.329406</text><path d="M1757,409.0 H1811 Q1814,409.0 1814,412.0 V423.0 Q1814,426.0 1811,426.0 H1757 Z" fill="#4caf50" shape-rendering="auto"/><text x="1764.9" y="421.9" font-family='"Liberation Sans", sans-serif' font-size="11" fill="#ffffff" text-anchor="start" font-weight="bold"  textLength="44.2" lengthAdjust="spacingAndGlyphs">0.285201</text><path d="M1757,455.2 H1811 Q1814,455.2 1814,458.2 V469.2 Q1814,472.2 1811,472.2 H1757 Z" fill="#4caf50" shape-rendering="auto"/><text x="1764.9" y="468.09999999999997" font-family='"Liberation Sans", sans-serif' font-size="11" fill="#ffffff" text-anchor="start" font-weight="bold"  textLength="44.2" lengthAdjust="spacingAndGlyphs">0.273639</text><path d="M1757,85.0 H1811 Q1814,85.0 1814,88.0 V112.0 Q1814,115.0 1811,115.0 H1757 Z" fill="#0000ff" shape-rendering="auto"/><text x="1764.9" y="97.7" font-family='"Liberation Sans", sans-serif' font-size="11" fill="#ffffff" text-anchor="start" font-weight="bold"  textLength="44.2" lengthAdjust="spacingAndGlyphs">0.366079</text><text x="1764.9" y="111.3" font-family='"Liberation Sans", sans-serif' font-size="11" fill="#d5dcff" text-anchor="start" font-weight="normal"  textLength="42.6" lengthAdjust="spacingAndGlyphs">03:45:47</text><rect x="1757" y="28" width="67" height="32.8" fill="#ffffff"/><rect x="1757" y="27" width="1" height="34" fill="#4a4a4a"/><rect x="1761.5" y="31" width="59" height="26" rx="5" ry="5" fill="#ffffff" stroke="#e4e6ec" stroke-width="2" shape-rendering="auto"/><text x="1770.4" y="48" font-family='"Liberation Sans", sans-serif' font-size="11" fill="#131722" text-anchor="start" font-weight="normal"  textLength="18.7" lengthAdjust="spacingAndGlyphs">USD</text><text x="18.01" y="793.3" font-family='"Liberation Sans", sans-serif' font-size="11" fill="#404040" text-anchor="start" font-weight="normal"  textLength="11.38" lengthAdjust="spacingAndGlyphs">23</text><text x="143.21" y="793.3" font-family='"Liberation Sans", sans-serif' font-size="11" fill="#404040" text-anchor="start" font-weight="normal"  textLength="11.38" lengthAdjust="spacingAndGlyphs">25</text><text x="267.91" y="793.3" font-family='"Liberation Sans", sans-serif' font-size="11" fill="#404040" text-anchor="start" font-weight="normal"  textLength="11.38" lengthAdjust="spacingAndGlyphs">27</text><text x="354.3" y="793.3" font-family='"Liberation Sans", sans-serif' font-size="11" fill="#404040" text-anchor="start" font-weight="normal"  textLength="25.6" lengthAdjust="spacingAndGlyphs">12:00</text><text x="454.91" y="793.3" font-family='"Liberation Sans", sans-serif' font-size="11" fill="#404040" text-anchor="start" font-weight="normal"  textLength="11.38" lengthAdjust="spacingAndGlyphs">30</text><text x="576.3" y="793.3" font-family='"Liberation Sans", sans-serif' font-size="11" fill="#404040" text-anchor="start" font-weight="normal"  textLength="18.19" lengthAdjust="spacingAndGlyphs">Nov</text><text x="707.26" y="793.3" font-family='"Liberation Sans", sans-serif' font-size="11" fill="#404040" text-anchor="start" font-weight="normal"  textLength="5.69" lengthAdjust="spacingAndGlyphs">3</text><text x="790.8" y="793.3" font-family='"Liberation Sans", sans-serif' font-size="11" fill="#404040" text-anchor="start" font-weight="normal"  textLength="25.6" lengthAdjust="spacingAndGlyphs">12:00</text><text x="894.26" y="793.3" font-family='"Liberation Sans", sans-serif' font-size="11" fill="#404040" text-anchor="start" font-weight="normal"  textLength="5.69" lengthAdjust="spacingAndGlyphs">6</text><text x="1018.96" y="793.3" font-family='"Liberation Sans", sans-serif' font-size="11" fill="#404040" text-anchor="start" font-weight="normal"  textLength="5.69" lengthAdjust="spacingAndGlyphs">8</text><text x="1140.81" y="793.3" font-family='"Liberation Sans", sans-serif' font-size="11" fill="#404040" text-anchor="start" font-weight="normal"  textLength="11.38" lengthAdjust="spacingAndGlyphs">10</text><text x="1227.2" y="793.3" font-family='"Liberation Sans", sans-serif' font-size="11" fill="#404040" text-anchor="start" font-weight="normal"  textLength="25.6" lengthAdjust="spacingAndGlyphs">12:00</text><text x="1327.91" y="793.3" font-family='"Liberation Sans", sans-serif' font-size="11" fill="#404040" text-anchor="start" font-weight="normal"  textLength="11.38" lengthAdjust="spacingAndGlyphs">13</text><text x="1452.61" y="793.3" font-family='"Liberation Sans", sans-serif' font-size="11" fill="#404040" text-anchor="start" font-weight="normal"  textLength="11.38" lengthAdjust="spacingAndGlyphs">15</text><text x="1577.31" y="793.3" font-family='"Liberation Sans", sans-serif' font-size="11" fill="#404040" text-anchor="start" font-weight="normal"  textLength="11.38" lengthAdjust="spacingAndGlyphs">17</text><text x="1663.7" y="793.3" font-family='"Liberation Sans", sans-serif' font-size="11" fill="#404040" text-anchor="start" font-weight="normal"  textLength="25.6" lengthAdjust="spacingAndGlyphs">12:00</text><text x="10.2" y="19" font-family='"Liberation Sans", sans-serif' font-size="12" fill="#363a45" text-anchor="start" font-weight="normal"  textLength="368.7" lengthAdjust="spacingAndGlyphs">aayushjindal published on TradingView.com, Nov 09, 2023 04:14 UTC</text><text x="18" y="46" font-family='"Liberation Sans", sans-serif' font-size="12" fill="#555555" text-anchor="start" font-weight="normal"  textLength="187.7" lengthAdjust="spacingAndGlyphs">Cardano / U. S. Dollar, 4h, KRAKEN</text><text x="213.5" y="46" font-family='"Liberation Sans", sans-serif' font-size="12" fill="#555555" text-anchor="start" font-weight="normal"  textLength="8.77" lengthAdjust="spacingAndGlyphs">O</text><text x="222.27" y="46" font-family='"Liberation Sans", sans-serif' font-size="12" fill="#2f6b3a" text-anchor="start" font-weight="normal"  textLength="47.03" lengthAdjust="spacingAndGlyphs">0.365937</text><text x="277.2" y="46" font-family='"Liberation Sans", sans-serif' font-size="12" fill="#555555" text-anchor="start" font-weight="normal"  textLength="8.15" lengthAdjust="spacingAndGlyphs">H</text><text x="285.35" y="46" font-family='"Liberation Sans", sans-serif' font-size="12" fill="#2f6b3a" text-anchor="start" font-weight="normal"  textLength="47.35" lengthAdjust="spacingAndGlyphs">0.366342</text><text x="341" y="46" font-family='"Liberation Sans", sans-serif' font-size="12" fill="#555555" text-anchor="start" font-weight="normal"  textLength="6.27" lengthAdjust="spacingAndGlyphs">L</text><text x="347.27" y="46" font-family='"Liberation Sans", sans-serif' font-size="12" fill="#2f6b3a" text-anchor="start" font-weight="normal"  textLength="47.03" lengthAdjust="spacingAndGlyphs">0.365937</text><text x="402.2" y="46" font-family='"Liberation Sans", sans-serif' font-size="12" fill="#555555" text-anchor="start" font-weight="normal"  textLength="8.15" lengthAdjust="spacingAndGlyphs">C</text><text x="410.35" y="46" font-family='"Liberation Sans", sans-serif' font-size="12" fill="#2f6b3a" text-anchor="start" font-weight="normal"  textLength="46.95" lengthAdjust="spacingAndGlyphs">0.366079</text><text x="465.4" y="46" font-family='"Liberation Sans", sans-serif' font-size="12" fill="#2f6b3a" text-anchor="start" font-weight="normal"  textLength="103.1" lengthAdjust="spacingAndGlyphs">+0.000130 (+0.04%)</text><g fill="#131722" shape-rendering="auto"><path d="M9.8,816.1 H17.7 V825.9 H13.4 V819.5 H9.8 Z"/><circle cx="21.3" cy="818.2" r="2.05"/><path d="M24.8,816.1 H29.6 L25.8,825.9 H21.2 Z"/></g><text x="33" y="826" font-family='"Liberation Sans", sans-serif' font-size="13" fill="#131722" text-anchor="start" font-weight="normal"  textLength="70" lengthAdjust="spacingAndGlyphs">TradingView</text></svg>
</body></html>
